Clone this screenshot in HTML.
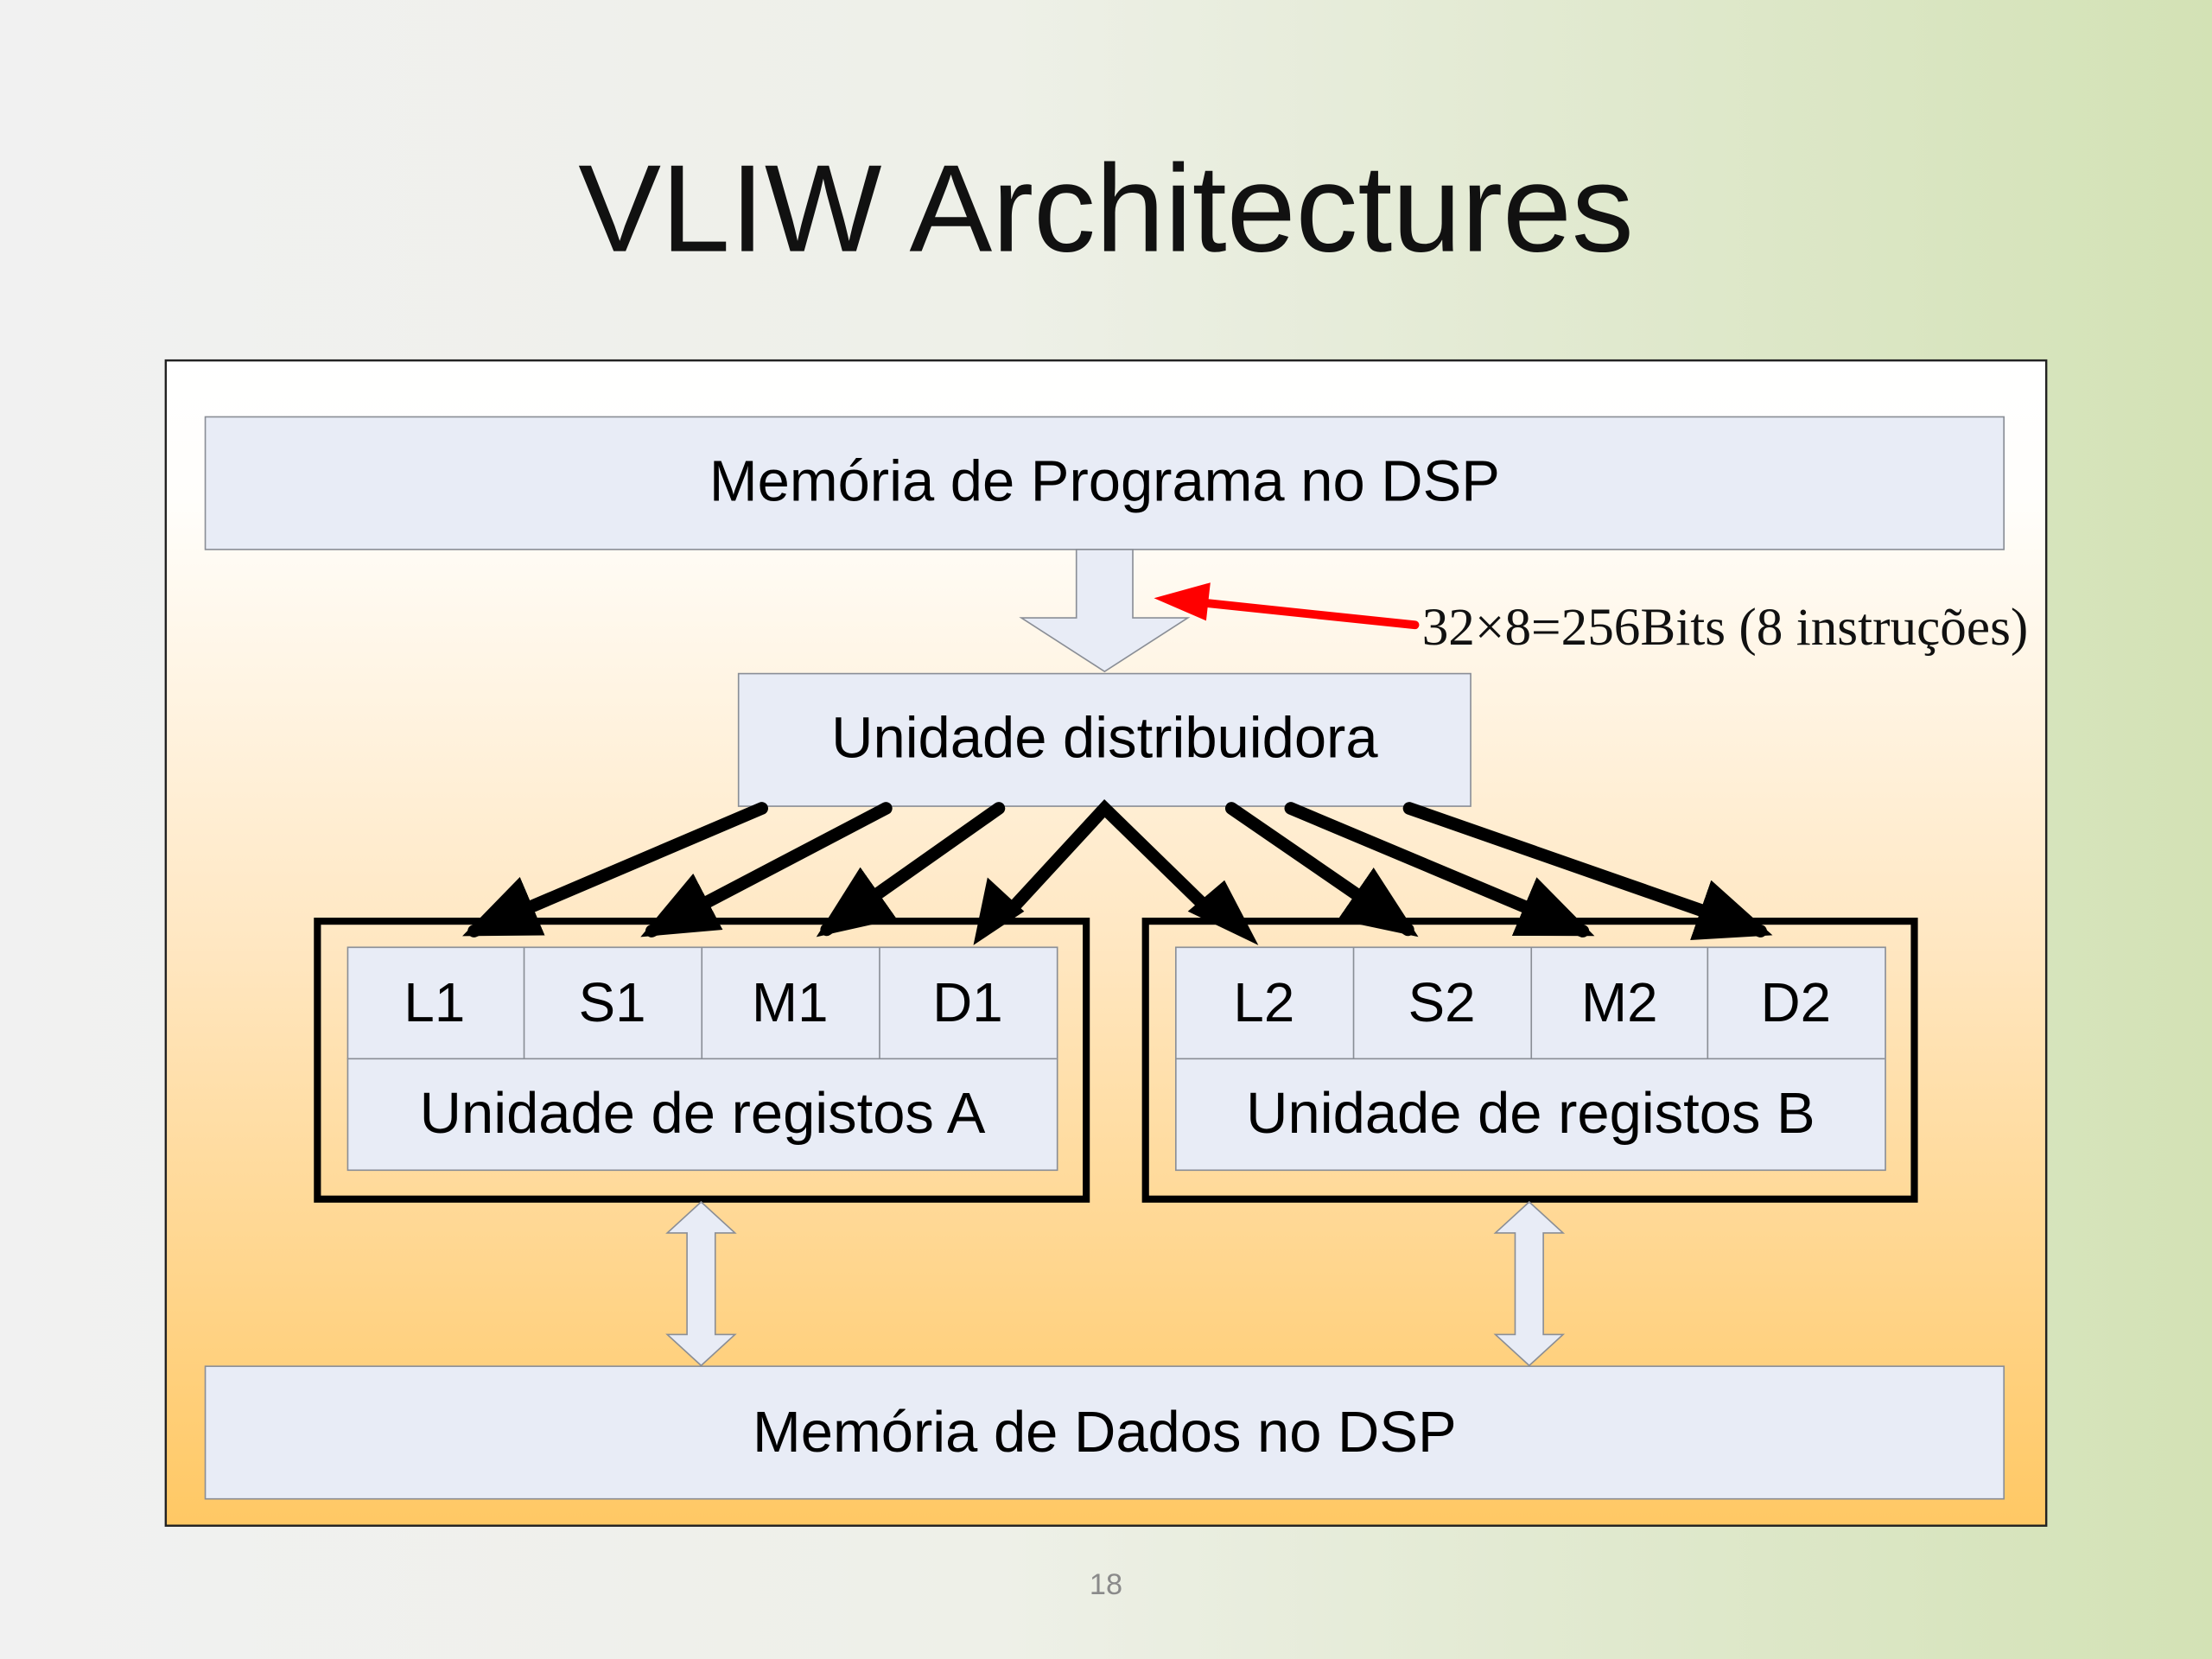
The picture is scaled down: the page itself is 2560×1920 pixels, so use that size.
<!DOCTYPE html>
<html><head><meta charset="utf-8"><style>
html,body{margin:0;padding:0;width:2560px;height:1920px;overflow:hidden}
svg{display:block}
</style></head><body>
<svg width="2560" height="1920" viewBox="0 0 1568 1176" xmlns="http://www.w3.org/2000/svg">
<defs>
<linearGradient id="bg" x1="0" y1="0" x2="1" y2="0">
<stop offset="0" stop-color="#f1f1f1"/><stop offset="0.45" stop-color="#eef0e8"/><stop offset="1" stop-color="#d3e2b5"/>
</linearGradient>
<linearGradient id="fr" x1="0" y1="0" x2="0" y2="1">
<stop offset="0" stop-color="#ffffff"/><stop offset="0.12" stop-color="#fffefb"/><stop offset="0.5" stop-color="#ffe7c2"/><stop offset="1" stop-color="#ffc864"/>
</linearGradient>
<marker id="ah" markerWidth="6" markerHeight="5" refX="5" refY="2.5" orient="auto" markerUnits="strokeWidth">
<path d="M0,0 L6,2.5 L0,5 z" fill="#000"/></marker>
</defs>
<rect width="1568" height="1176" fill="url(#bg)"/>
<text x="784" y="178" text-anchor="middle" font-family="Liberation Sans, sans-serif" font-size="88" fill="#111">VLIW Architectures</text>
<rect x="117.5" y="255.5" width="1333" height="826" fill="url(#fr)" stroke="#222" stroke-width="1.5"/>
<g font-family="Liberation Sans, sans-serif" font-size="41" fill="#000" text-anchor="middle">
<rect x="145.5" y="295.5" width="1275" height="94" fill="#e8ecf6" stroke="#8a8e96"/>
<text x="783" y="355">Memória de Programa no DSP</text>
<path d="M763,389.5 L803,389.5 L803,438 L842,438 L783,476 L724,438 L763,438 Z" fill="#e8ecf6" stroke="#8a8e96"/>
<rect x="523.5" y="477.5" width="519" height="94" fill="#e8ecf6" stroke="#8a8e96"/>
<text x="783" y="537">Unidade distribuidora</text>
<rect x="225" y="653" width="545" height="197" fill="none" stroke="#000" stroke-width="5"/>
<rect x="812" y="653" width="545" height="197" fill="none" stroke="#000" stroke-width="5"/>
<rect x="246.5" y="671.5" width="503" height="158" fill="#e8ecf6" stroke="#8a8e96"/>
<rect x="833.5" y="671.5" width="503" height="158" fill="#e8ecf6" stroke="#8a8e96"/>
<path d="M246,750.5H749M371.5,671V750M497.5,671V750M623.5,671V750M833,750.5H1336M959.5,671V750M1085.5,671V750M1210.5,671V750" stroke="#8a8e96" fill="none"/>
<g font-size="39">
<text x="308" y="724">L1</text><text x="434" y="724">S1</text><text x="560" y="724">M1</text><text x="686" y="724">D1</text>
<text x="896" y="724">L2</text><text x="1022" y="724">S2</text><text x="1148" y="724">M2</text><text x="1273" y="724">D2</text>
</g>
<text x="498" y="803">Unidade de registos A</text>
<text x="1085" y="803">Unidade de registos B</text>
<path d="M497,852 L521,874 L507,874 L507,946 L521,946 L497,968 L473,946 L487,946 L487,874 L473,874 Z" fill="#e8ecf6" stroke="#8a8e96"/>
<path d="M1084,852 L1108,874 L1094,874 L1094,946 L1108,946 L1084,968 L1060,946 L1074,946 L1074,874 L1060,874 Z" fill="#e8ecf6" stroke="#8a8e96"/>
<rect x="145.5" y="968.5" width="1275" height="94" fill="#e8ecf6" stroke="#8a8e96"/>
<text x="783" y="1029">Memória de Dados no DSP</text>
</g>
<g stroke="#000" stroke-width="9" stroke-linecap="round" fill="none" marker-end="url(#ah)">
<line x1="540" y1="573" x2="336" y2="660"/>
<line x1="628" y1="573" x2="462" y2="660"/>
<line x1="708" y1="573" x2="586" y2="659"/>
<line x1="873" y1="573" x2="998" y2="659"/>
<line x1="915" y1="573" x2="1122" y2="660"/>
<line x1="999" y1="573" x2="1248" y2="660"/>
</g>
<path d="M712,650 L783,573 L862,650" stroke="#000" stroke-width="9" fill="none" stroke-linejoin="miter"/>
<path d="M690,670 L700,622 L726,646 Z" fill="#000"/>
<path d="M892,670 L868,624 L842,646 Z" fill="#000"/>
<line x1="1003" y1="443" x2="850" y2="427" stroke="#f00" stroke-width="6" stroke-linecap="round"/>
<path d="M818,424 L858,413 L855,440 Z" fill="#f00"/>
<text x="1008" y="457" font-family="Liberation Serif, serif" font-size="37.5" fill="#111">32×8=256Bits (8 instruções)</text>
<text x="784" y="1130" text-anchor="middle" font-family="Liberation Sans, sans-serif" font-size="21" fill="#8a8a8a">18</text>
</svg>
</body></html>
